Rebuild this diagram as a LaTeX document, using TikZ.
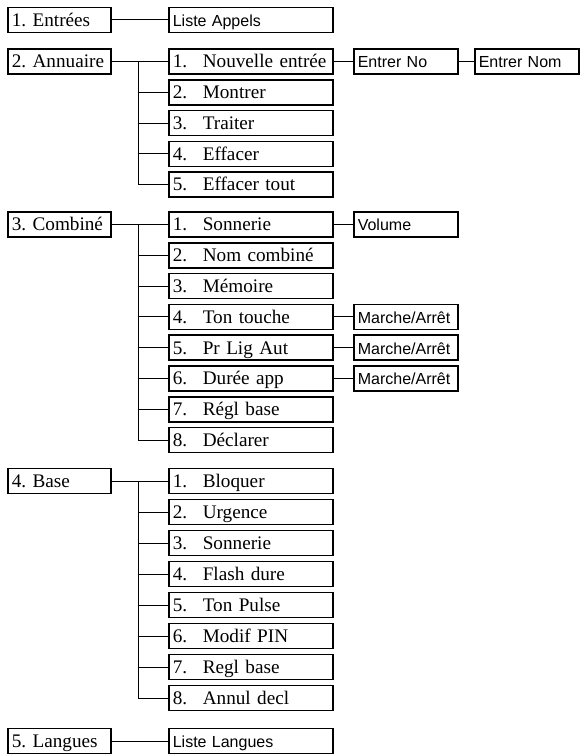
\documentclass[tikz,border=0pt]{standalone}
\usepackage{fontspec}
\setmainfont{Liberation Serif}
\setsansfont{Liberation Sans}
\usetikzlibrary{positioning}

\newcommand{\menunum}[2]{\makebox[15pt][l]{#1.}#2}

\begin{document}
\frenchspacing
\begin{tikzpicture}[
    x=0.5pt, y=-0.5pt,
    box/.style={draw, line width=0.8pt, anchor=west, minimum height=12.5pt, inner xsep=2pt, inner ysep=0pt,
        text height=7.5pt, text depth=1.2pt, align=left},
    menu/.style={box, text width=47.5pt, font=\fontsize{9.6}{11}\selectfont},
    item/.style={box, text width=78pt, font=\fontsize{9.6}{11}\selectfont},
    sansitem/.style={box, text width=78pt, font=\sffamily\fontsize{8}{10}\selectfont},
    leaf/.style={box, text width=48pt, font=\sffamily\fontsize{8}{10}\selectfont},
    link/.style={line width=0.5pt}
]
    \useasboundingbox (0,0) rectangle (579,754);

    % 1. Entrees
    \node[menu] (entrees) at (7,20) {1. Entrées};
    \node[sansitem] (appels) at (168,20) {Liste Appels};
    \draw[link] (entrees) -- (appels);

    % 2. Annuaire: 5 items on a bus at x=138
    \node[menu] (ann) at (7,61.5) {2. Annuaire};
    \foreach \t [count=\i] in {Nouvelle entrée, Montrer, Traiter, Effacer, Effacer tout}
        \node[item] (ann\i) at (168,{61.5+30.8*(\i-1)}) {\menunum{\i}{\t}};
    \coordinate (annj) at (138,61.5);
    \draw[link] (ann) -- (ann1);
    \foreach \i in {2,...,5}
        \draw[link] (annj) |- (ann\i);
    \node[leaf] (entrerno) at (353,61.5) {Entrer No};
    \node[leaf] (entrernom) at (474,61.5) {Entrer Nom};
    \draw[link] (ann1) -- (entrerno);
    \draw[link] (entrerno) -- (entrernom);

    % 3. Combine: 8 items, some with a leaf
    \node[menu] (comb) at (7,224.5) {3. Combiné};
    \foreach \t [count=\i] in {Sonnerie, Nom combiné, Mémoire, Ton touche, Pr Lig Aut, Durée app, Régl base, Déclarer}
        \node[item] (comb\i) at (168,{224.5+30.8*(\i-1)}) {\menunum{\i}{\t}};
    \coordinate (combj) at (138,224.5);
    \draw[link] (comb) -- (comb1);
    \foreach \i in {2,...,8}
        \draw[link] (combj) |- (comb\i);
    \node[leaf] (volume) at (353,224.5) {Volume};
    \draw[link] (comb1) -- (volume);
    \foreach \i in {4,5,6} {
        \node[leaf] (onoff\i) at (353,{224.5+30.8*(\i-1)}) {Marche/Arrêt};
        \draw[link] (comb\i) -- (onoff\i);
    }

    % 4. Base: 8 items
    \node[menu] (base) at (7,481) {4. Base};
    \foreach \t [count=\i] in {Bloquer, Urgence, Sonnerie, Flash dure, Ton Pulse, Modif PIN, Regl base, Annul decl}
        \node[item] (base\i) at (168,{481+31*(\i-1)}) {\menunum{\i}{\t}};
    \coordinate (basej) at (138,481);
    \draw[link] (base) -- (base1);
    \foreach \i in {2,...,8}
        \draw[link] (basej) |- (base\i);

    % 5. Langues
    \node[menu] (lang) at (7,741) {5. Langues};
    \node[sansitem] (langues) at (168,741) {Liste Langues};
    \draw[link] (lang) -- (langues);
\end{tikzpicture}
\end{document}
